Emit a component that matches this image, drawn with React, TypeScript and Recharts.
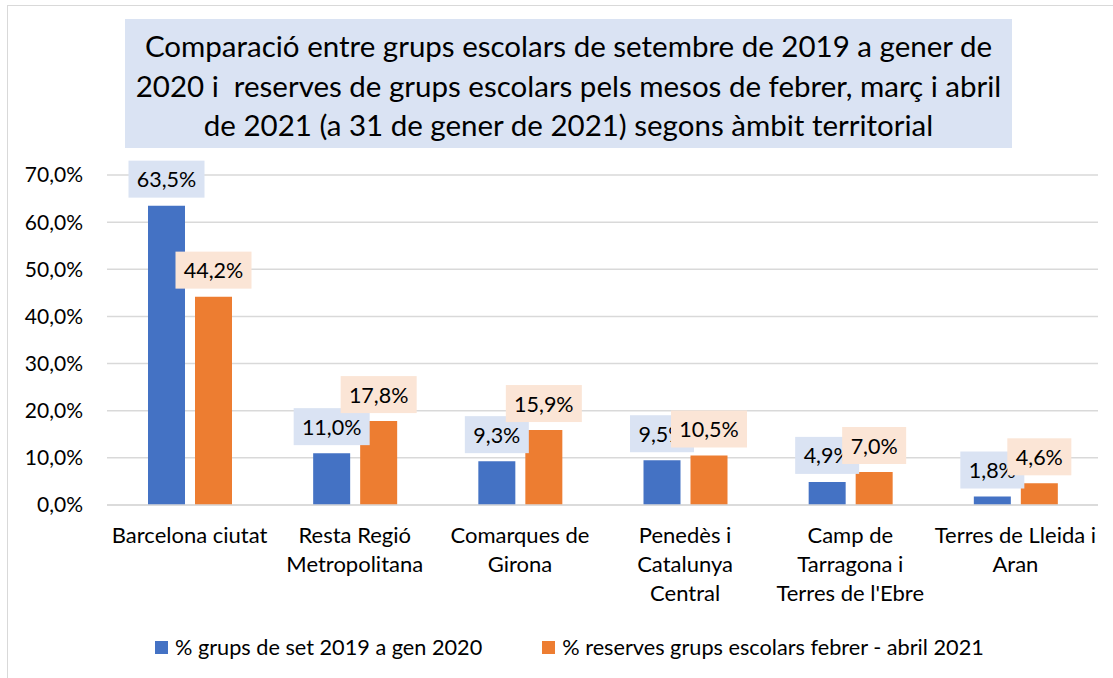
import React from "react";
import { BarChart, Bar, XAxis, YAxis, CartesianGrid, Legend, LabelList } from "recharts";

const titleLines = [
  "Comparació entre grups escolars de setembre de 2019 a gener de",
  "2020 i  reserves de grups escolars pels mesos de febrer, març i abril",
  "de 2021 (a 31 de gener de 2021) segons àmbit territorial",
];
const categoryLines = [
  ["Barcelona ciutat"],
  ["Resta Regió", "Metropolitana"],
  ["Comarques de", "Girona"],
  ["Penedès i", "Catalunya", "Central"],
  ["Camp de", "Tarragona i", "Terres de l'Ebre"],
  ["Terres de Lleida i", "Aran"],
];
const categories = categoryLines.map((l) => l.join(" "));
const groups2019 = [63.5, 11.0, 9.3, 9.5, 4.9, 1.8];
const reserves2021 = [44.2, 17.8, 15.9, 10.5, 7.0, 4.6];
const yTicks = [0, 10, 20, 30, 40, 50, 60, 70];
const seriesNames = ["% grups de set 2019 a gen 2020", "% reserves grups escolars febrer - abril 2021"];

const BLUE = "#4472C4";
const ORANGE = "#ED7D31";
const BLUE_BG = "#DAE3F3";
const ORANGE_BG = "#FBE5D6";
const GRID = "#D9D9D9";
const FONT = "Lato, 'Open Sans', sans-serif";
const TEXT = "#000000";

const data = categories.map((name, i) => ({ name, a: groups2019[i], b: reserves2021[i] }));

const fmt = (v: number) => v.toFixed(1).replace(".", ",") + "%";

const makeLabel = (bg: string) => (props: any) => {
  const { x, y, width, value } = props;
  const s = fmt(Number(value));
  const w = s.length * 12 + 16;
  const h = 37;
  const cx = Number(x) + Number(width) / 2;
  const bottom = Number(y) - 8;
  return (
    <g>
      <rect x={cx - w / 2} y={bottom - h} width={w} height={h} fill={bg} />
      <text x={cx} y={bottom - h / 2} textAnchor="middle" dominantBaseline="central" fontSize={21.5} fontFamily={FONT} fill={TEXT}>
        {s}
      </text>
    </g>
  );
};

const CatTick = (props: any) => {
  const { x, y, payload } = props;
  const idx = categories.indexOf(payload.value);
  const lines = idx >= 0 ? categoryLines[idx] : [String(payload.value)];
  return (
    <text x={x} y={y} textAnchor="middle" fontSize={22} fontFamily={FONT} fill={TEXT}>
      {lines.map((l, i) => (
        <tspan key={i} x={x} dy={i === 0 ? 30 : 29}>
          {l}
        </tspan>
      ))}
    </text>
  );
};

const LegendContent = () => (
  <div style={{ display: "flex", alignItems: "center", height: 40, paddingLeft: 155, fontFamily: FONT, fontSize: 21.7, color: TEXT }}>
    {[BLUE, ORANGE].map((c, i) => (
      <div key={i} style={{ display: "flex", alignItems: "center", marginRight: 60 }}>
        <div style={{ width: 13, height: 13, background: c, marginRight: 7 }} />
        <span>{seriesNames[i]}</span>
      </div>
    ))}
  </div>
);

export default function App() {
  return (
    <div style={{ position: "absolute", left: 0, top: 0, width: 1113, height: 678, overflow: "hidden", background: "#fff" }}>
      <div style={{ position: "absolute", left: 7, top: 5, width: 1130, height: 700, border: `1.5px solid ${GRID}` }} />
      <div
        style={{
          position: "absolute",
          left: 125,
          top: 19,
          width: 887,
          height: 129,
          background: BLUE_BG,
          textAlign: "center",
          fontFamily: FONT,
          fontSize: 29.5,
          lineHeight: "39.5px",
          paddingTop: 7,
          boxSizing: "border-box",
          color: TEXT,
          whiteSpace: "pre",
        }}
      >
        {titleLines.map((l, i) => (
          <div key={i}>{l}</div>
        ))}
      </div>
      <div style={{ position: "absolute", left: 0, top: 0 }}>
        <BarChart width={1113} height={678} data={data} margin={{ top: 175, right: 15, left: 0, bottom: 11 }} barSize={37} barGap={10}>
          <CartesianGrid vertical={false} stroke={GRID} strokeWidth={1.5} />
          <XAxis dataKey="name" interval={0} tickLine={false} axisLine={{ stroke: GRID, strokeWidth: 1.5 }} height={122} tick={<CatTick />} />
          <YAxis
            width={107}
            domain={[0, 70]}
            ticks={yTicks}
            axisLine={false}
            tickLine={false}
            tickMargin={18}
            tickFormatter={fmt}
            tick={{ fontSize: 21, fontFamily: FONT, fill: TEXT }}
          />
          <Legend verticalAlign="bottom" height={40} wrapperStyle={{ left: 0, width: 1113, height: 40 }} content={<LegendContent />} />
          <Bar dataKey="a" name={seriesNames[0]} fill={BLUE} isAnimationActive={false}>
            <LabelList dataKey="a" content={makeLabel(BLUE_BG)} />
          </Bar>
          <Bar dataKey="b" name={seriesNames[1]} fill={ORANGE} isAnimationActive={false}>
            <LabelList dataKey="b" content={makeLabel(ORANGE_BG)} />
          </Bar>
        </BarChart>
      </div>
    </div>
  );
}
